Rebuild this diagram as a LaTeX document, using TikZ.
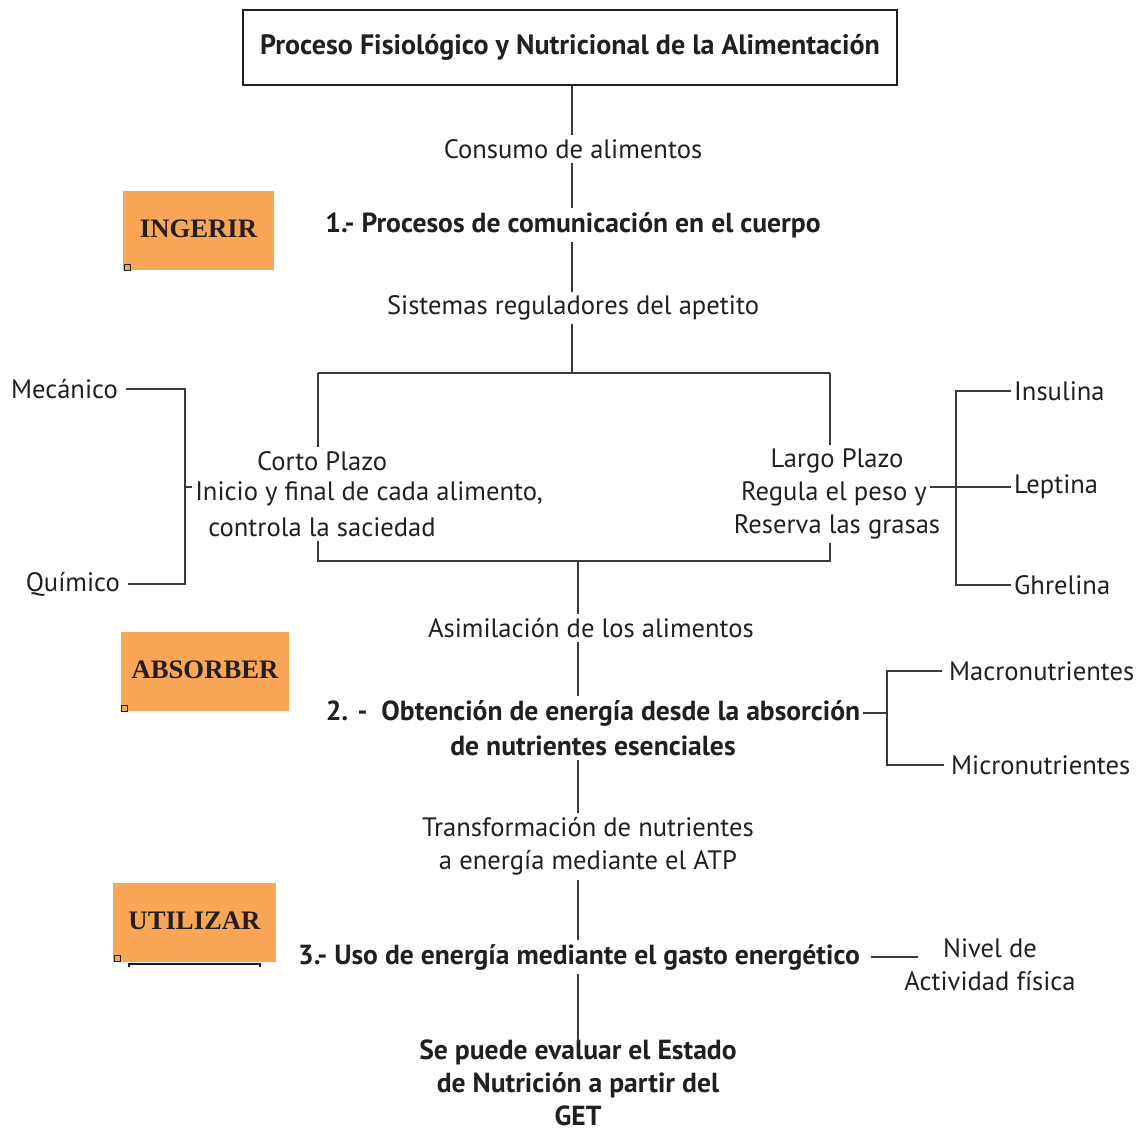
\documentclass[tikz,border=0pt]{standalone}
\usepackage{fontspec}
\setmainfont{PT Sans}
\newfontfamily\stageserif{Liberation Serif}
\definecolor{ink}{HTML}{231F20}
\definecolor{wirec}{HTML}{3A3A3A}
\definecolor{stagefill}{HTML}{F9A657}
\begin{document}
\begin{tikzpicture}[x=1pt,y=-1pt,
  lbl/.style={text=ink, inner xsep=3pt, inner ysep=4pt, align=center,
    font=\fontsize{26.6}{33}\selectfont},
  hd/.style={text=ink, inner xsep=3pt, inner ysep=4pt, align=center,
    font=\fontsize{27.6}{33}\selectfont\bfseries},
  wire/.style={draw=wirec, line width=1.2pt},
  stage/.style={fill=stagefill, text=ink, inner sep=0pt,
    font=\stageserif\fontsize{26.7}{30}\selectfont\bfseries},
  corner/.style={draw=ink, fill=stagefill, line width=1pt, minimum size=6pt, inner sep=0pt}
]
\useasboundingbox (0,0) rectangle (1144,1133);

% title
\node[hd, font=\fontsize{28}{33}\selectfont\bfseries, draw=ink, line width=1.5pt,
  minimum width=654pt, minimum height=75pt]
  (title) at (570,47.5) {Proceso Fisiológico y Nutricional de la Alimentación};

% main column
\node[lbl] (consumo) at (573,149) {Consumo de alimentos};
\node[hd]  (p1) at (573,225) {1.- Procesos de comunicación en el cuerpo};
\node[lbl] (sist) at (573,308) {Sistemas reguladores del apetito};
\coordinate (split) at (572,373);
\coordinate (splitL) at (318,373);
\coordinate (splitR) at (830,373);

\draw[wire] (title.south -| split) -- (consumo.north -| split);
\draw[wire] (consumo.south -| split) -- (p1.north -| split);
\draw[wire] (p1.south -| split) -- (sist.north -| split);
\draw[wire] (sist.south -| split) -- (split);
\draw[wire] (splitL) -- (splitR);

% short term / long term
\node[lbl] (cortoA) at (322,461) {Corto Plazo};
\node[lbl] (cortoB) at (369,494) {Inicio y final de cada alimento,};
\node[lbl] (cortoC) at (322,527) {controla la saciedad};
\node[lbl] (largoA) at (837,461) {Largo Plazo};
\node[lbl] (largoB) at (834,494) {Regula el peso y};
\node[lbl] (largoC) at (837,527) {Reserva las grasas};

\draw[wire] (splitL) -- (splitL |- cortoA.north);
\draw[wire] (splitR) -- (splitR |- largoA.north);

\coordinate (joinL) at (318,561);
\coordinate (joinR) at (830,561);
\coordinate (join) at (578,561);
\draw[wire] (joinL |- cortoC.south) -- (joinL) -- (joinR) -- (joinR |- largoC.south);

% mechanical / chemical signals
\node[lbl, anchor=east] (meca) at (121,389) {Mecánico};
\node[lbl, anchor=east] (quim) at (123,584) {Químico};
\coordinate (brL) at (185,487);
\draw[wire] ([xshift=5pt]meca.east) -- (brL |- meca.east) -- (brL |- quim.east) -- ([xshift=5pt]quim.east);
\draw[wire] (brL) -- (brL -| cortoB.west);

% hormones
\node[lbl, anchor=west] (insu) at (1011,391) {Insulina};
\node[lbl, anchor=west] (lept) at (1011,487) {Leptina};
\node[lbl, anchor=west] (ghre) at (1011,585) {Ghrelina};
\coordinate (brR) at (956,487);
\draw[wire] (insu.west) -- (brR |- insu.west) -- (brR |- ghre.west) -- (ghre.west);
\draw[wire] (lept.west -| largoB.east) -- (lept.west);

% absorption
\node[lbl] (asim) at (591,628) {Asimilación de los alimentos};
\node[hd]  (p2a) at (593,713) {2. -\ \ Obtención de energía desde la absorción};
\node[hd]  (p2b) at (593,746) {de nutrientes esenciales};
\draw[wire] (join) -- (join |- asim.north);
\draw[wire] (join |- asim.south) -- (join |- p2a.north);

\node[lbl, anchor=west] (macro) at (946,671) {Macronutrientes};
\node[lbl, anchor=west] (micro) at (948,765) {Micronutrientes};
\coordinate (brM) at (887,713);
\draw[wire] (p2a.east) -- (brM);
\draw[wire] ([xshift=-4pt]macro.west) -- (brM |- macro.west) -- (brM |- micro.west) -- ([xshift=-4pt]micro.west);

% use of energy
\node[lbl] (trans) at (588,846.5) {Transformación de nutrientes\\a energía mediante el ATP};
\node[hd]  (p3) at (579,957) {3.- Uso de energía mediante el gasto energético};
\node[lbl] (nivel) at (990,965) {Nivel de\\Actividad física};
\coordinate (nivelIn) at (918,957);
\draw[wire] (join |- p2b.south) -- (join |- trans.north);
\draw[wire] (join |- trans.south) -- (join |- p3.north);
\draw[wire] ([xshift=8pt]p3.east) -- (nivelIn);

\node[hd, inner ysep=1pt] (final) at (578,1083) {Se puede evaluar el Estado\\de Nutrición a partir del\\GET};
\draw[wire] (join |- p3.south) -- ([yshift=-3pt]join |- final.north);

% stage labels
\node[stage, minimum width=151pt, minimum height=79pt] (ingerir) at (198.5,230.5) {\raisebox{3pt}{INGERIR}};
\node[stage, minimum width=168pt, minimum height=79pt] (absorber) at (205,671.5) {\raisebox{4pt}{ABSORBER}};
\node[stage, minimum width=163pt, minimum height=79pt] (utilizar) at (194.5,922.5) {\raisebox{3pt}{UTILIZAR}};
\node[corner] (cI) at (127,267) {};
\node[corner] (cA) at (124,708) {};
\node[corner] (cU) at (117,958) {};
\coordinate (ulL) at (129,964);
\coordinate (ulR) at (260,964);
\draw[draw=ink, line width=2pt] ([yshift=-3pt]ulL) -- (ulL) -- (ulR) -- ([yshift=-3pt]ulR);
\end{tikzpicture}
\end{document}
